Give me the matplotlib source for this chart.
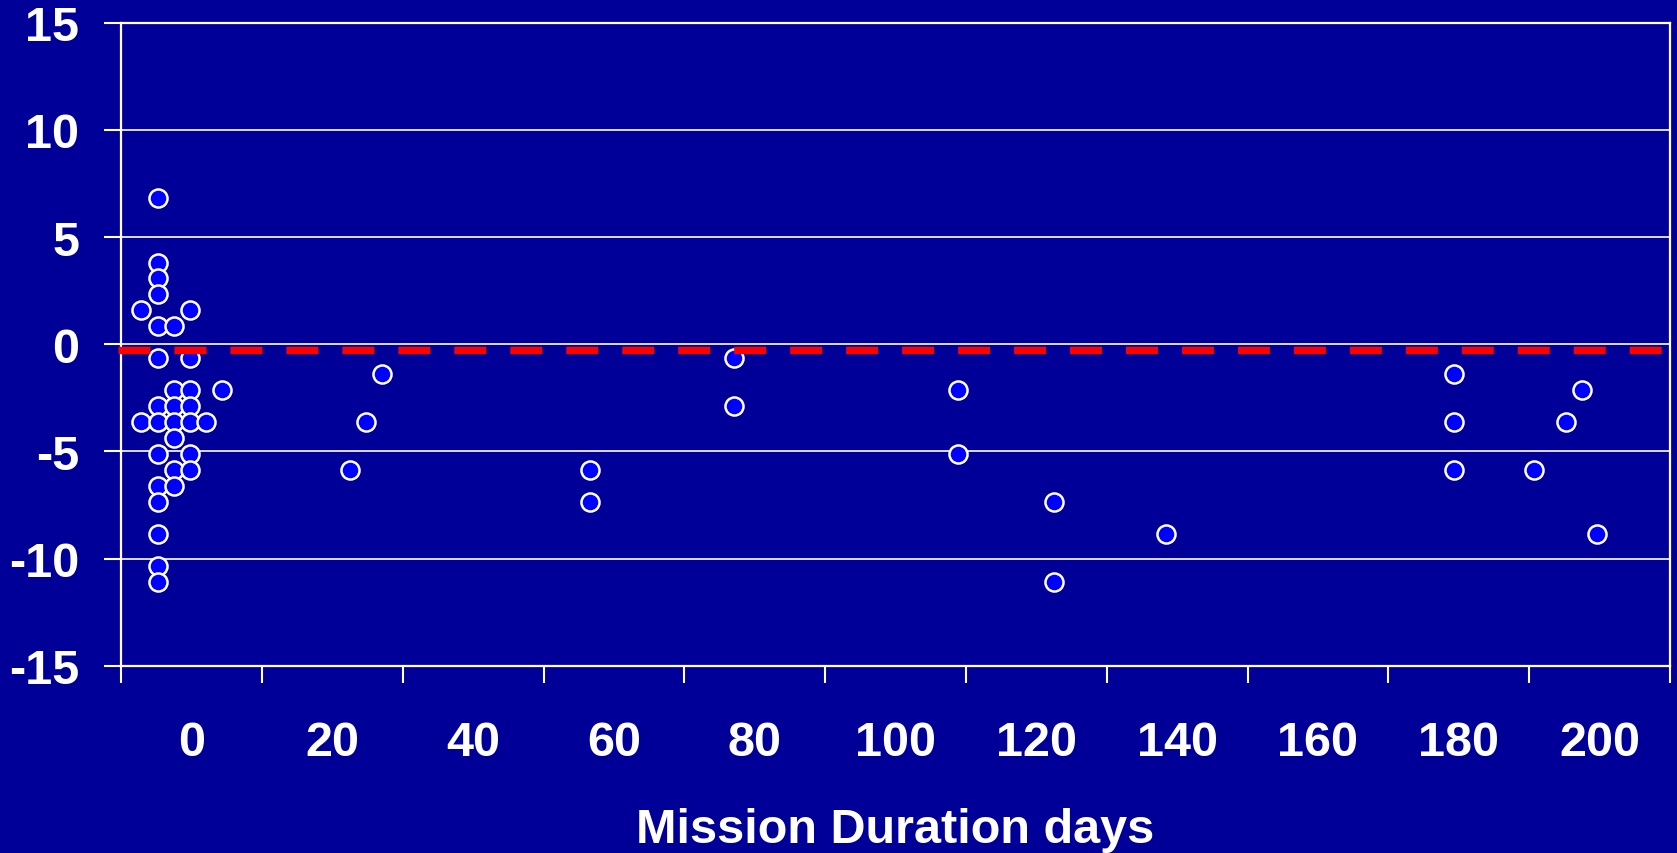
import matplotlib.pyplot as plt

# mission duration (days) and change (%)
days = [-7.1, -7.1,
        -4.7, -4.7, -4.7, -4.7, -4.7, -4.7, -4.7, -4.7, -4.7, -4.7, -4.7, -4.7, -4.7, -4.7,
        -2.5, -2.5, -2.5, -2.5, -2.5, -2.5, -2.5,
        -0.2, -0.2, -0.2, -0.2, -0.2, -0.2, -0.2,
        2.1, 4.3,
        22.5, 24.8, 27.1,
        56.6, 56.6,
        77.0, 77.0,
        108.9, 108.9,
        122.5, 122.5,
        138.4,
        179.3, 179.3, 179.3,
        190.7, 195.2, 197.5, 199.7]
change = [1.60, -3.62,
          6.80, 3.81, 3.08, 2.33, 0.85, -0.64, -2.87, -3.62, -5.11, -6.60, -7.35, -8.84, -10.34, -11.09,
          0.85, -2.13, -2.87, -3.62, -4.38, -5.86, -6.60,
          1.60, -0.64, -2.13, -2.87, -3.62, -5.11, -5.86,
          -3.62, -2.13,
          -5.87, -3.63, -1.40,
          -5.87, -7.36,
          -0.65, -2.89,
          -2.14, -5.13,
          -7.36, -11.09,
          -8.85,
          -1.40, -3.63, -5.87,
          -5.87, -3.63, -2.14, -8.85]

mean_line = -0.28
x_labels = [0, 20, 40, 60, 80, 100, 120, 140, 160, 180, 200]
y_ticks = [-15, -10, -5, 0, 5, 10, 15]
y_labels = ['-15', '-10', '-5', '0', '5', '10', '15']

BG = '#000099'


def main():
    plt.rcParams['font.family'] = ['Liberation Sans', 'DejaVu Sans']
    plt.rcParams['font.weight'] = 'bold'
    plt.rcParams['lines.scale_dashes'] = False

    fig = plt.figure(figsize=[16.77, 8.54], dpi=100, facecolor=BG)
    ax = fig.add_axes([0.0722, 0.2193, 0.9236, 0.7529], facecolor=BG)

    ax.set_xlim(-10, 210)
    ax.set_ylim(-15, 15)

    ax.plot(days, change, 'o', ms=13, mfc='#0000ff', mec='white', mew=1.8, zorder=3)
    ax.plot([-10.43, 209.0], [mean_line, mean_line], color='#ff0000', lw=5.3,
            dashes=(23, 17.3), solid_capstyle='butt', dash_capstyle='butt',
            clip_on=False, zorder=4)

    # tick marks between the labels, like the spreadsheet original
    ax.set_xticks([x - 10 for x in x_labels] + [210])
    ax.set_xticklabels([])
    ax.set_xticks(x_labels, minor=True)
    ax.set_xticklabels([str(x) for x in x_labels], minor=True)
    ax.tick_params(axis='x', which='major', length=12, width=1.5, color='white', direction='out')
    ax.tick_params(axis='x', which='minor', length=0, pad=39, labelsize=35, labelcolor='white')

    ax.set_yticks(y_ticks)
    ax.set_yticklabels(y_labels)
    ax.tick_params(axis='y', length=12, width=1.5, color='white', direction='out',
                   pad=18, labelsize=35, labelcolor='white')

    ax.yaxis.grid(True, color='white', lw=1.2, zorder=0)
    ax.set_axisbelow(True)
    for sp in ax.spines.values():
        sp.set_color('white')
        sp.set_linewidth(1.6)

    ax.set_xlabel('Mission Duration days', fontsize=35, color='white', fontweight='bold')
    ax.xaxis.set_label_coords(0.5, -0.274)
    ax.xaxis.label.set_verticalalignment('baseline')

    plt.savefig('out.png', dpi=100, facecolor=BG)


if __name__ == "__main__":
    main()
